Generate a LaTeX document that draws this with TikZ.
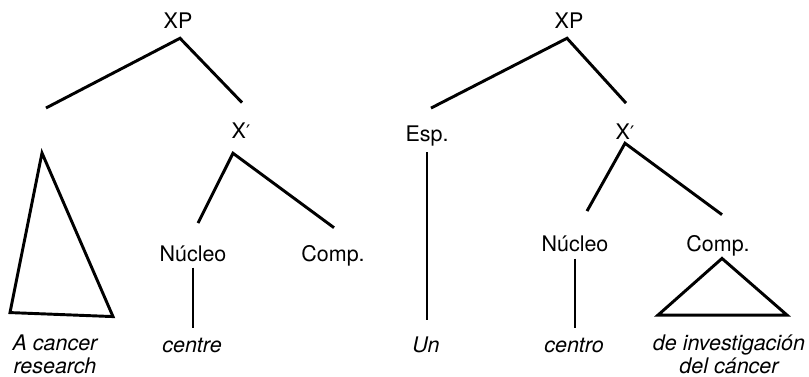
\documentclass[tikz,border=0pt]{standalone}
\usepackage{fontspec}
\setmainfont{TeX Gyre Heros}
\newfontfamily\primefont{DejaVu Sans}
\usetikzlibrary{calc}
\newcommand{\xbar}{X{\primefont\fontsize{14}{14}\selectfont ′}}
\tikzset{
  lbl/.style={anchor=base,inner sep=0.75pt,font=\fontsize{16.1}{17.25}\selectfont},
  word/.style={lbl,font=\fontsize{16.1}{17.25}\selectfont\itshape,align=center},
  branch/.style={line width=2.2pt}
}

\begin{document}
\begin{tikzpicture}[x=0.75pt,y=0.75pt,yscale=-1,xscale=1]
\useasboundingbox (0,0) rectangle (809,377);

% Text Node
\draw (178,29) node [lbl] (xpL) {XP};
% Text Node
\draw (241,139) node [lbl] (xbarL) {\xbar};
% Text Node
\draw (193,262) node [lbl] (nucL) {Núcleo};
% Text Node
\draw (333,262) node [lbl] (compL) {Comp.};
% Text Node
\draw (55,373) node [word,inner sep=0pt] (cancerL) {A cancer\\research};
% Text Node
\draw (192,352) node [word] (centreL) {centre};
\coordinate (specL) at (44,130);

% Text Node
\draw (569,29) node [lbl] (xpR) {XP};
% Text Node
\draw (427,142) node [lbl] (espR) {Esp.};
% Text Node
\draw (625,140) node [lbl] (xbarR) {\xbar};
% Text Node
\draw (575,252) node [lbl] (nucR) {Núcleo};
% Text Node
\draw (718,252) node [lbl] (compR) {Comp.};
% Text Node
\draw (426,352) node [word] (unR) {Un};
% Text Node
\draw (574,352) node [word] (centroR) {centro};
% Text Node
\draw (729,373) node [word,inner sep=0pt] (cancerR) {de investigación\\del cáncer};

%Straight Lines
\draw [branch] ($(specL)+(2,-22)$) -- ($(xpL.south)+(2,8)$) -- ($(xbarL.north)+(1,-19.5)$) ;
\draw [branch] ($(nucL.north)+(5,-22)$) -- ($(xbarL.south)+(-8,13)$) -- ($(compL.north)+(1,-17)$) ;
\draw [branch] ($(nucL.south)+(0,4)$) -- ($(centreL.north)+(1,-8.6)$) ;
\draw [branch] ($(specL)+(-2,23)$) -- ($(cancerL.north)+(-45,-21.5)$) -- ($(cancerL.north)+(58,-17.5)$) -- cycle ;

\draw [branch] ($(espR.north)+(4,-17)$) -- ($(xpR.south)+(-2,8)$) -- ($(xbarR.north)+(1,-20)$) ;
\draw [branch] ($(espR.south)+(0,4.5)$) -- ($(unR.north)+(1,-15)$) ;
\draw [branch] ($(nucR.north)+(12,-24)$) -- ($(xbarR.south)+(0,2)$) -- ($(compR.north)+(4,-20)$) ;
\draw [branch] ($(nucR.south)+(0,5)$) -- ($(centroR.north)+(1,-8.6)$) ;
\draw [branch] ($(compR.south)+(4,0.5)$) -- ($(cancerR.north)+(-71,-19)$) -- ($(cancerR.north)+(58,-19)$) -- cycle ;

\end{tikzpicture}
\end{document}
